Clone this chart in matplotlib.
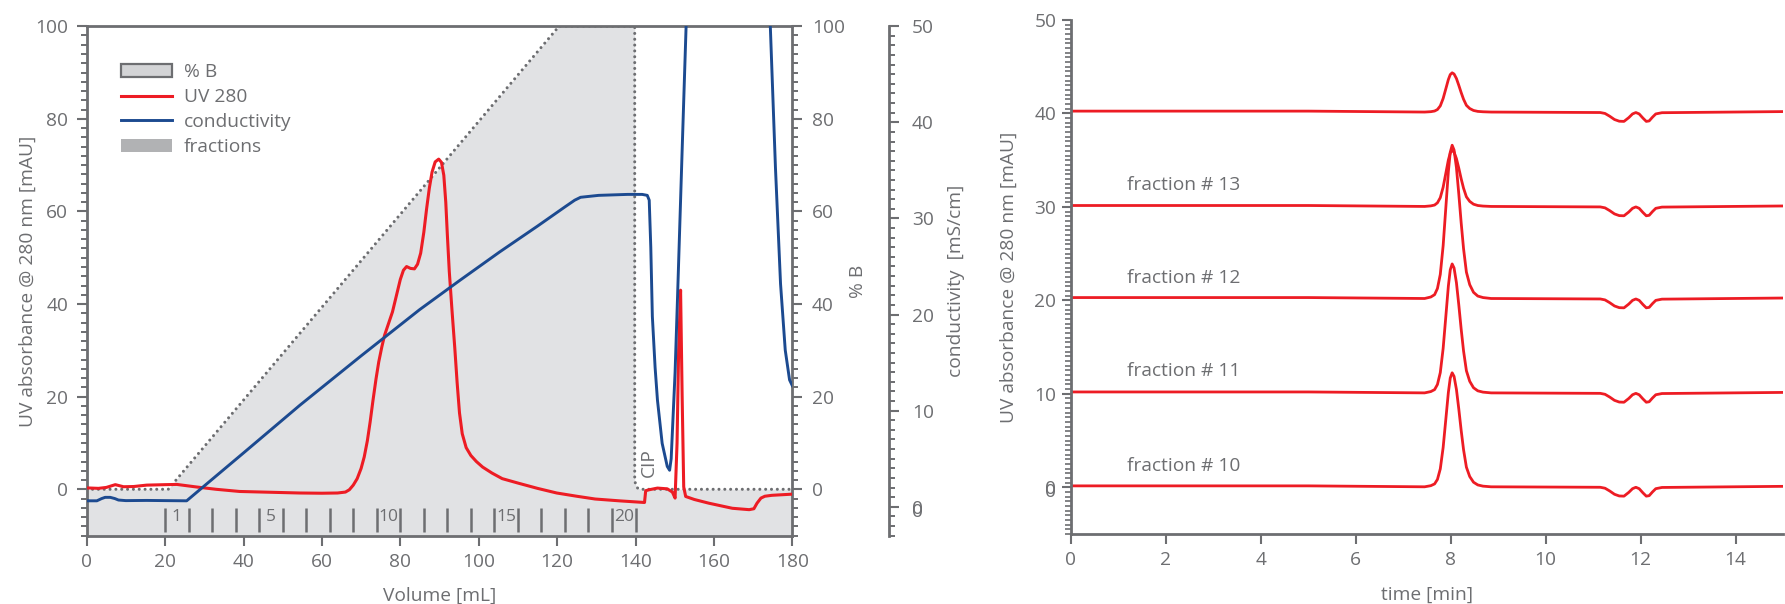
import matplotlib
matplotlib.use('Agg')
import matplotlib.pyplot as plt
from matplotlib.ticker import MultipleLocator, FixedLocator
from matplotlib.patches import Patch
from matplotlib.lines import Line2D

plt.rcParams['font.family'] = ['Open Sans', 'DejaVu Sans']

GRAY = '#6d6e71'
RED = '#ed1c24'
BLUE = '#1c4a90'
FILL = '#e1e2e4'
FS = 13.8

# ---------------- data: preparative run (left) ----------------
uv_ml = [0, 3, 5, 7.3, 9.4, 12, 15.3, 20, 23, 28,
         33, 39, 45, 54.3, 60, 64, 66.0, 67.0, 68.0, 69.0,
         70.0, 70.8, 71.6, 72.3, 73.0, 73.8, 74.5, 75.3, 76.0, 77.0,
         78.0, 79.0, 80.0, 80.8, 81.6, 82.6, 83.6, 84.4, 85.2, 86.0,
         86.7, 87.4, 88.1, 88.9, 89.8, 90.5, 91.1, 91.6, 92.0, 92.5,
         93.2, 93.9, 94.5, 95.1, 95.8, 96.8, 98.0, 99.4, 101, 103.4,
         106, 110.2, 115, 119.9, 125, 129.7, 136, 142.3, 142.6, 143.5,
         145.6, 148.1, 149.4, 150.1, 150.6, 151.0, 151.5, 151.9, 152.3, 152.8,
         155, 158.7, 164.7, 169.0, 170.2, 171, 172.0, 173.0, 174.8, 180]
uv_mau = [0.3, 0.2, 0.4, 1.0, 0.55, 0.6, 0.9, 1.0, 1.05, 0.5,
          0.0, -0.47, -0.6, -0.8, -0.85, -0.8, -0.6, -0.1, 0.9, 2.3,
          4.5, 7.0, 10.5, 14.5, 19.0, 23.8, 27.5, 30.8, 33.3, 35.8,
          38.3, 41.8, 45.3, 47.3, 48.1, 47.7, 47.6, 48.6, 51.0, 55.5,
          60.5, 65.0, 68.5, 70.7, 71.3, 70.6, 67.8, 62.0, 55.0, 47.0,
          38.5, 30.5, 23.0, 16.5, 12.0, 9.0, 7.3, 6.0, 4.8, 3.5,
          2.3, 1.3, 0.2, -0.8, -1.5, -2.1, -2.5, -2.85, -0.3, -0.1,
          0.26, 0.1, -0.6, -1.9, 10.0, 30.0, 43.0, 20.0, 0.5, -1.55,
          -2.2, -3.0, -4.1, -4.4, -4.2, -3.0, -1.9, -1.5, -1.3, -1.05]

cond_ml = [0, 2.6, 3.8, 4.7, 6.0, 7.2, 8.1, 10, 15.3, 20, 25.5, 30, 40, 54.4, 70,
           84.9, 95, 105.3, 115, 122, 124.5, 126, 130.6, 138, 141.7, 143.0, 143.5,
           143.9, 144.3, 145.0, 145.6, 146.8, 148.1, 148.7, 149.1, 149.4, 150.1,
           150.7, 151.9, 152.9, 153.6, 173.3, 174.4, 175.7, 177.0, 178.2, 179.3, 180]
cond_ms = [0.62, 0.62, 0.85, 0.98, 0.98, 0.85, 0.7, 0.64, 0.66, 0.64, 0.62, 2.17,
           5.6, 10.57, 15.7, 20.5, 23.5, 26.5, 29.2, 31.2, 31.9, 32.2, 32.4, 32.5,
           32.5, 32.4, 31.9, 27.0, 19.8, 14.5, 11.1, 6.6, 4.2, 3.8, 5.0, 7.7, 14.0,
           21.5, 37.1, 49.9, 58.0, 58.0, 49.9, 35.3, 23.2, 16.3, 13.2, 12.6]

pb_ml = [0, 20.8, 120.5, 139.8, 139.8, 140.1, 140.6, 141.5, 180]
pb_pct = [0, 0, 100, 100, 2.0, 0.8, 0.2, 0, 0]

fraction_edges = [20, 26, 32, 38, 44, 50, 56, 62, 68, 74, 80, 86, 92, 98, 104,
                  110, 116, 122, 128, 134, 140]
fraction_labelled = [1, 5, 10, 15, 20]

# ---------------- data: analytical runs of fractions (right) ----------------
t_min = [0, 5.0,
         7.45, 7.58, 7.66, 7.72, 7.78, 7.84, 7.90, 7.95, 7.99, 8.03, 8.07, 8.12,
         8.17, 8.22, 8.27, 8.33, 8.40, 8.48, 8.57, 8.68, 8.85,
         11.15, 11.25, 11.35, 11.45, 11.55, 11.65, 11.75, 11.83, 11.9, 11.97,
         12.05, 12.12, 12.18, 12.25, 12.32, 12.45,
         13.5, 15.0]
fr10 = [0.15, 0.15,
        0.05, 0.17, 0.36, 0.84, 1.97, 4.25, 7.46, 10.15, 11.69, 12.25, 11.87, 10.47,
        8.37, 6.08, 4.02, 2.15, 1.15, 0.54, 0.25, 0.12, 0.05,
        0.0, -0.1, -0.4, -0.75, -0.93, -0.95, -0.55, -0.15, 0.0, -0.15,
        -0.6, -0.95, -0.9, -0.5, -0.15, -0.02,
        0.03, 0.1]
fr11 = [10.2, 10.2,
        10.1, 10.24, 10.45, 11.0, 12.27, 14.85, 18.48, 21.53, 23.27, 23.9, 23.47, 21.89,
        19.51, 16.92, 14.59, 12.47, 11.34, 10.65, 10.32, 10.18, 10.1,
        10.05, 9.95, 9.65, 9.3, 9.12, 9.1, 9.5, 9.9, 10.05, 9.9,
        9.45, 9.1, 9.15, 9.55, 9.9, 10.03,
        10.08, 10.15]
fr12 = [20.3, 20.3,
        20.2, 20.36, 20.61, 21.27, 22.78, 25.84, 30.16, 33.78, 35.85, 36.6, 36.09, 34.21,
        31.38, 28.30, 25.53, 23.02, 21.68, 20.86, 20.46, 20.30, 20.2,
        20.15, 20.05, 19.75, 19.4, 19.22, 19.2, 19.6, 20.0, 20.15, 20.0,
        19.55, 19.2, 19.25, 19.65, 20.0, 20.13,
        20.18, 20.25]
fr13 = [30.15, 30.15,
        30.05, 30.11, 30.2, 30.44, 30.99, 32.11, 33.69, 35.02, 35.77, 36.05, 35.86, 35.17,
        34.14, 33.01, 32.0, 31.08, 30.59, 30.29, 30.15, 30.09, 30.05,
        30.0, 29.9, 29.6, 29.25, 29.07, 29.05, 29.45, 29.85, 30.0, 29.85,
        29.4, 29.05, 29.1, 29.5, 29.85, 29.98,
        30.03, 30.1]
fr14 = [40.25, 40.25,
        40.15, 40.19, 40.26, 40.42, 40.81, 41.6, 42.7, 43.63, 44.16, 44.35, 44.22, 43.74,
        43.01, 42.23, 41.52, 40.87, 40.53, 40.32, 40.22, 40.18, 40.15,
        40.1, 40.0, 39.7, 39.35, 39.17, 39.15, 39.55, 39.95, 40.1, 39.95,
        39.5, 39.15, 39.2, 39.6, 39.95, 40.08,
        40.13, 40.2]
traces = [fr10, fr11, fr12, fr13, fr14]
trace_labels = ['fraction # 10', 'fraction # 11', 'fraction # 12', 'fraction # 13', None]
trace_label_y = [2.3, 12.4, 22.4, 32.3, None]

# ---------------- figure ----------------
W, H = 1785, 604
fig = plt.figure(figsize=(W / 100, H / 100), dpi=100)


def rect(l, t, r, b):
    return [l / W, 1 - b / H, (r - l) / W, (b - t) / H]


def style_ticks(a, axis, **kw):
    a.tick_params(axis=axis, which='both', direction='out', colors=GRAY,
                  labelcolor=GRAY, labelsize=FS, **kw)
    a.tick_params(axis=axis, which='major', length=7.2, width=1.5)
    a.tick_params(axis=axis, which='minor', length=4.3, width=1.4)


# left main axes
ax = fig.add_axes(rect(86.7, 26.2, 792.3, 535.6))
ax.set_xlim(0, 180)
ax.set_ylim(-10, 100)
for s in ax.spines.values():
    s.set_color(GRAY)
    s.set_linewidth(2.0)
ax.fill_between(pb_ml, pb_pct, -10, color=FILL, lw=0, zorder=0)
ax.plot(pb_ml, pb_pct, color=GRAY, lw=2.2, ls=(0, (0.01, 1.9)),
        dash_capstyle='round', zorder=2)
ax.plot(uv_ml, uv_mau, color=RED, lw=2.2, zorder=3)
ax.vlines(fraction_edges, -9.3, -4.1, color=GRAY, lw=1.8, zorder=2)
for n in fraction_labelled:
    xc = (fraction_edges[n - 1] + fraction_edges[n]) / 2
    ax.text(xc, -5.9, str(n), ha='center', va='center', fontsize=12.5, color=GRAY)
ax.text(143.5, 5.8, 'CIP', rotation=90, ha='center', va='center',
        fontsize=FS, color=GRAY)

ax.xaxis.set_major_locator(MultipleLocator(20))
ax.yaxis.set_major_locator(FixedLocator([0, 20, 40, 60, 80, 100]))
ax.yaxis.set_minor_locator(MultipleLocator(2))
ax.yaxis.tick_left()
style_ticks(ax, 'x', pad=5)
style_ticks(ax, 'y', pad=6)
ax.set_xlabel('Volume [mL]', fontsize=FS, color=GRAY, labelpad=12)
ax.set_ylabel('UV absorbance @ 280 nm [mAU]', fontsize=FS, color=GRAY, labelpad=-1.3)

handles = [Patch(facecolor='#d3d4d6', edgecolor=GRAY, linewidth=1.6),
           Line2D([], [], color=RED, lw=2.2),
           Line2D([], [], color=BLUE, lw=2.1),
           Patch(facecolor='#b1b2b4', edgecolor='none')]
ax.legend(handles, ['% B', 'UV 280', 'conductivity', 'fractions'],
          loc='upper left', bbox_to_anchor=(0.048, 0.927), frameon=False,
          borderpad=0, borderaxespad=0, handlelength=2.7, handleheight=0.7,
          handletextpad=0.6, labelspacing=0.36, fontsize=FS, labelcolor=GRAY)

# %B axis on the right spine
ax_pb = ax.twinx()
ax_pb.set_ylim(-10, 100)
for s in ax_pb.spines.values():
    s.set_visible(False)
ax_pb.yaxis.set_major_locator(FixedLocator([0, 20, 40, 60, 80, 100]))
ax_pb.yaxis.set_minor_locator(MultipleLocator(2))
style_ticks(ax_pb, 'y', pad=7)
ax_pb.set_ylabel('% B', fontsize=FS, color=GRAY, labelpad=3)

# conductivity axis (offset)
ax_c = ax.twinx()
ax_c.set_ylim(-3, 50)
for k, s in ax_c.spines.items():
    s.set_visible(k == 'right')
ax_c.spines['right'].set_position(('axes', 1.1375))
ax_c.spines['right'].set_color(GRAY)
ax_c.spines['right'].set_linewidth(2.0)
ax_c.yaxis.set_major_locator(FixedLocator([0, 10, 20, 30, 40, 50]))
ax_c.yaxis.set_minor_locator(MultipleLocator(1))
style_ticks(ax_c, 'y', pad=9)
ax_c.set_ylabel('conductivity  [mS/cm]', fontsize=FS, color=GRAY, labelpad=9.5)
ax_c.plot(cond_ml, cond_ms, color=BLUE, lw=2.1, zorder=4)

# duplicated, slightly shifted zero label on the conductivity axis
ax_c0 = ax.twinx()
ax_c0.set_ylim(-3 + 0.3, 50 + 0.3)
for s in ax_c0.spines.values():
    s.set_visible(False)
ax_c0.spines['right'].set_position(('axes', 1.1375))
ax_c0.yaxis.set_major_locator(FixedLocator([0]))
ax_c0.tick_params(axis='y', which='major', direction='out', length=7.2, width=1.5,
                  color='none', labelcolor=GRAY, labelsize=FS, pad=9)

# right panel
axr = fig.add_axes(rect(1071, 20, 1783, 534))
axr.set_xlim(0, 15)
axr.set_ylim(-5, 50)
for k, s in axr.spines.items():
    s.set_color(GRAY)
    s.set_linewidth(2.0)
    s.set_visible(k in ('left', 'bottom'))
for vals, lab, ly in zip(traces, trace_labels, trace_label_y):
    axr.plot(t_min, vals, color=RED, lw=2.0)
    if lab:
        axr.text(1.18, ly, lab, ha='left', va='center', fontsize=FS, color=GRAY)
axr.xaxis.set_major_locator(MultipleLocator(2))
axr.yaxis.set_major_locator(FixedLocator([0, 10, 20, 30, 40, 50]))
axr.yaxis.set_minor_locator(MultipleLocator(0.5))
style_ticks(axr, 'x', pad=5)
style_ticks(axr, 'y', pad=4)
axr.tick_params(axis='y', which='major', length=6.5)
axr.tick_params(axis='y', which='minor', length=4.5, width=1.2)
axr.set_xlabel('time [min]', fontsize=FS, color=GRAY, labelpad=12)
axr.set_ylabel('UV absorbance @ 280 nm [mAU]', fontsize=FS, color=GRAY, labelpad=12)

axr0 = axr.twinx()
axr0.set_ylim(-5 + 0.25, 50 + 0.25)
for s in axr0.spines.values():
    s.set_visible(False)
axr0.yaxis.tick_left()
axr0.yaxis.set_major_locator(FixedLocator([0]))
axr0.tick_params(axis='y', which='major', direction='out', length=6.5, width=1.5,
                 color='none', labelcolor=GRAY, labelsize=FS, pad=4)

fig.savefig('out.png', dpi=100, facecolor='white')
